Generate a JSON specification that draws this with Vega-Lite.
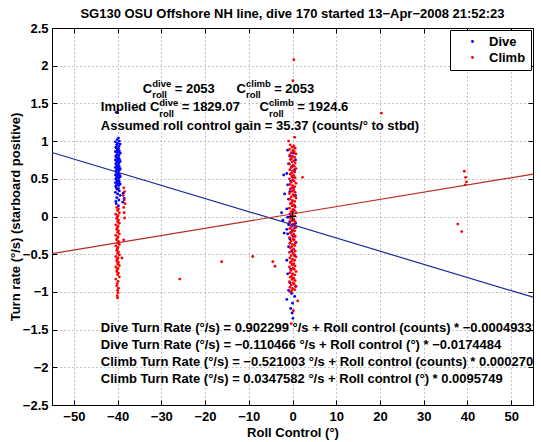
{
"$schema":"https://vega.github.io/schema/vega-lite/v6.json",
"width":481,"height":377,
"autosize":{"type":"none"},
"padding":{"left":52,"top":28,"right":8,"bottom":37},
"background":"white",
"title":{"text":"SG130 OSU Offshore NH line, dive 170 started 13−Apr−2008 21:52:23","font":"Liberation Sans","fontSize":13,"fontWeight":"bold","color":"black","offset":1,"anchor":"middle"},
"config":{"view":{"stroke":null},
"axis":{"labelFont":"Liberation Sans","labelFontSize":13,"labelFontWeight":"bold","labelColor":"black","titleFont":"Liberation Sans","titleFontSize":13,"titleFontWeight":"bold","titleColor":"black","domainColor":"black","tickColor":"black","domainWidth":1,"tickWidth":1,"labelFlush":false,"gridColor":"#888888","gridDash":[1,3],"gridWidth":1}},
"datasets":{
"points":[
{"series":"Dive","x":-40.3,"y":1.38},{"series":"Dive","x":-39.8,"y":1.04},{"series":"Dive","x":-40.1,"y":1.02},{"series":"Dive","x":-39.6,"y":1.0},{"series":"Dive","x":-40.5,"y":0.99},{"series":"Dive","x":-40.0,"y":0.97},{"series":"Dive","x":-39.4,"y":0.96},{"series":"Dive","x":-40.2,"y":0.95},{"series":"Dive","x":-39.7,"y":0.93},{"series":"Dive","x":-40.4,"y":0.92},
{"series":"Dive","x":-40.3,"y":0.91},{"series":"Dive","x":-39.8,"y":0.9},{"series":"Dive","x":-40.1,"y":0.88},{"series":"Dive","x":-39.6,"y":0.87},{"series":"Dive","x":-40.5,"y":0.86},{"series":"Dive","x":-40.0,"y":0.85},{"series":"Dive","x":-39.4,"y":0.84},{"series":"Dive","x":-40.2,"y":0.82},{"series":"Dive","x":-39.7,"y":0.81},{"series":"Dive","x":-40.4,"y":0.8},
{"series":"Dive","x":-40.3,"y":0.79},{"series":"Dive","x":-39.8,"y":0.78},{"series":"Dive","x":-40.1,"y":0.77},{"series":"Dive","x":-39.6,"y":0.76},{"series":"Dive","x":-40.5,"y":0.75},{"series":"Dive","x":-40.0,"y":0.74},{"series":"Dive","x":-39.4,"y":0.73},{"series":"Dive","x":-40.2,"y":0.72},{"series":"Dive","x":-39.7,"y":0.71},{"series":"Dive","x":-40.4,"y":0.7},
{"series":"Dive","x":-40.3,"y":0.69},{"series":"Dive","x":-39.8,"y":0.68},{"series":"Dive","x":-40.1,"y":0.67},{"series":"Dive","x":-39.6,"y":0.66},{"series":"Dive","x":-40.5,"y":0.65},{"series":"Dive","x":-40.0,"y":0.64},{"series":"Dive","x":-39.4,"y":0.63},{"series":"Dive","x":-40.2,"y":0.62},{"series":"Dive","x":-39.7,"y":0.61},{"series":"Dive","x":-40.4,"y":0.6},
{"series":"Dive","x":-40.3,"y":0.59},{"series":"Dive","x":-39.8,"y":0.58},{"series":"Dive","x":-40.1,"y":0.57},{"series":"Dive","x":-39.6,"y":0.56},{"series":"Dive","x":-40.5,"y":0.55},{"series":"Dive","x":-40.0,"y":0.54},{"series":"Dive","x":-39.4,"y":0.53},{"series":"Dive","x":-40.2,"y":0.52},{"series":"Dive","x":-39.7,"y":0.51},{"series":"Dive","x":-40.4,"y":0.5},
{"series":"Dive","x":-40.3,"y":0.49},{"series":"Dive","x":-39.8,"y":0.48},{"series":"Dive","x":-40.1,"y":0.47},{"series":"Dive","x":-39.6,"y":0.46},{"series":"Dive","x":-40.5,"y":0.45},{"series":"Dive","x":-40.0,"y":0.44},{"series":"Dive","x":-39.4,"y":0.43},{"series":"Dive","x":-40.2,"y":0.42},{"series":"Dive","x":-39.7,"y":0.41},{"series":"Dive","x":-40.4,"y":0.4},
{"series":"Dive","x":-40.3,"y":0.38},{"series":"Dive","x":-39.8,"y":0.37},{"series":"Dive","x":-40.1,"y":0.36},{"series":"Dive","x":-39.6,"y":0.34},{"series":"Dive","x":-40.5,"y":0.32},{"series":"Dive","x":-40.0,"y":0.3},{"series":"Dive","x":-39.4,"y":0.28},{"series":"Dive","x":-40.2,"y":0.25},{"series":"Dive","x":-39.7,"y":0.22},{"series":"Dive","x":-40.4,"y":0.2},
{"series":"Dive","x":-40.3,"y":0.17},{"series":"Dive","x":-39.8,"y":0.14},{"series":"Dive","x":-38.7,"y":0.31},{"series":"Dive","x":-38.5,"y":0.24},{"series":"Dive","x":-38.8,"y":0.19},
{"series":"Dive","x":-1.1,"y":0.88},{"series":"Dive","x":0.2,"y":0.84},{"series":"Dive","x":-0.6,"y":0.8},{"series":"Dive","x":0.7,"y":0.75},{"series":"Dive","x":-0.9,"y":0.7},{"series":"Dive","x":-0.2,"y":0.66},{"series":"Dive","x":0.5,"y":0.62},{"series":"Dive","x":-1.3,"y":0.57},{"series":"Dive","x":0.0,"y":0.52},{"series":"Dive","x":-0.4,"y":0.47},
{"series":"Dive","x":-1.1,"y":0.42},{"series":"Dive","x":0.2,"y":0.38},{"series":"Dive","x":-0.6,"y":0.33},{"series":"Dive","x":0.7,"y":0.28},{"series":"Dive","x":-0.9,"y":0.23},{"series":"Dive","x":-0.2,"y":0.18},{"series":"Dive","x":0.5,"y":0.14},{"series":"Dive","x":-1.3,"y":0.1},{"series":"Dive","x":0.0,"y":0.06},{"series":"Dive","x":-0.4,"y":0.02},
{"series":"Dive","x":-1.1,"y":-0.01},{"series":"Dive","x":0.2,"y":-0.04},{"series":"Dive","x":-0.6,"y":-0.07},{"series":"Dive","x":0.7,"y":-0.09},{"series":"Dive","x":-0.9,"y":-0.11},{"series":"Dive","x":-0.2,"y":-0.13},{"series":"Dive","x":0.5,"y":-0.15},{"series":"Dive","x":-1.3,"y":-0.17},{"series":"Dive","x":0.0,"y":-0.19},{"series":"Dive","x":-0.4,"y":-0.21},
{"series":"Dive","x":-1.1,"y":-0.23},{"series":"Dive","x":0.2,"y":-0.26},{"series":"Dive","x":-0.6,"y":-0.3},{"series":"Dive","x":0.7,"y":-0.35},{"series":"Dive","x":-0.9,"y":-0.4},{"series":"Dive","x":-0.2,"y":-0.46},{"series":"Dive","x":0.5,"y":-0.52},{"series":"Dive","x":-1.3,"y":-0.58},{"series":"Dive","x":0.0,"y":-0.64},{"series":"Dive","x":-0.4,"y":-0.7},
{"series":"Dive","x":-1.1,"y":-0.76},{"series":"Dive","x":0.2,"y":-0.82},{"series":"Dive","x":-0.6,"y":-0.88},{"series":"Dive","x":0.7,"y":-0.93},{"series":"Dive","x":-0.9,"y":-0.98},{"series":"Dive","x":-0.2,"y":-1.02},{"series":"Dive","x":0.5,"y":-1.06},{"series":"Dive","x":-1.3,"y":-1.1},{"series":"Dive","x":0.0,"y":-1.15},{"series":"Dive","x":-0.4,"y":-1.22},
{"series":"Dive","x":-0.1,"y":-1.28},{"series":"Dive","x":0.1,"y":-1.35},{"series":"Dive","x":-2.5,"y":0.05},{"series":"Dive","x":-2.2,"y":-0.05},{"series":"Dive","x":-1.8,"y":0.3},{"series":"Dive","x":-2.0,"y":0.55},{"series":"Dive","x":-1.9,"y":-0.22},
{"series":"Climb","x":-40.2,"y":0.12},{"series":"Climb","x":-39.8,"y":0.1},{"series":"Climb","x":-40.0,"y":0.08},{"series":"Climb","x":-39.6,"y":0.05},{"series":"Climb","x":-40.4,"y":0.03},{"series":"Climb","x":-39.9,"y":0.01},{"series":"Climb","x":-40.1,"y":-0.01},
{"series":"Climb","x":-40.2,"y":-0.03},{"series":"Climb","x":-39.8,"y":-0.05},{"series":"Climb","x":-40.0,"y":-0.07},{"series":"Climb","x":-39.6,"y":-0.09},{"series":"Climb","x":-40.4,"y":-0.11},{"series":"Climb","x":-39.9,"y":-0.13},{"series":"Climb","x":-40.1,"y":-0.15},
{"series":"Climb","x":-40.2,"y":-0.17},{"series":"Climb","x":-39.8,"y":-0.19},{"series":"Climb","x":-40.0,"y":-0.21},{"series":"Climb","x":-39.6,"y":-0.23},{"series":"Climb","x":-40.4,"y":-0.25},{"series":"Climb","x":-39.9,"y":-0.27},{"series":"Climb","x":-40.1,"y":-0.29},
{"series":"Climb","x":-40.2,"y":-0.31},{"series":"Climb","x":-39.8,"y":-0.33},{"series":"Climb","x":-40.0,"y":-0.35},{"series":"Climb","x":-39.6,"y":-0.37},{"series":"Climb","x":-40.4,"y":-0.39},{"series":"Climb","x":-39.9,"y":-0.41},{"series":"Climb","x":-40.1,"y":-0.43},
{"series":"Climb","x":-40.2,"y":-0.45},{"series":"Climb","x":-39.8,"y":-0.47},{"series":"Climb","x":-40.0,"y":-0.49},{"series":"Climb","x":-39.6,"y":-0.51},{"series":"Climb","x":-40.4,"y":-0.53},{"series":"Climb","x":-39.9,"y":-0.55},{"series":"Climb","x":-40.1,"y":-0.57},
{"series":"Climb","x":-40.2,"y":-0.59},{"series":"Climb","x":-39.8,"y":-0.61},{"series":"Climb","x":-40.0,"y":-0.63},{"series":"Climb","x":-39.6,"y":-0.65},{"series":"Climb","x":-40.4,"y":-0.67},{"series":"Climb","x":-39.9,"y":-0.69},{"series":"Climb","x":-40.1,"y":-0.71},
{"series":"Climb","x":-40.2,"y":-0.73},{"series":"Climb","x":-39.8,"y":-0.75},{"series":"Climb","x":-40.0,"y":-0.77},{"series":"Climb","x":-39.6,"y":-0.8},{"series":"Climb","x":-40.4,"y":-0.83},{"series":"Climb","x":-39.9,"y":-0.86},{"series":"Climb","x":-40.1,"y":-0.89},
{"series":"Climb","x":-40.2,"y":-0.92},{"series":"Climb","x":-39.8,"y":-0.95},{"series":"Climb","x":-40.0,"y":-0.98},{"series":"Climb","x":-39.9,"y":-1.01},{"series":"Climb","x":-40.1,"y":-1.05},{"series":"Climb","x":-40.0,"y":-1.08},
{"series":"Climb","x":-38.6,"y":0.38},{"series":"Climb","x":-38.4,"y":0.33},{"series":"Climb","x":-38.7,"y":0.28},{"series":"Climb","x":-38.5,"y":0.22},{"series":"Climb","x":-38.3,"y":0.17},{"series":"Climb","x":-38.6,"y":0.12},{"series":"Climb","x":-38.5,"y":0.05},{"series":"Climb","x":-38.4,"y":-0.02},{"series":"Climb","x":-38.6,"y":-0.31},{"series":"Climb","x":-39.0,"y":-0.55},
{"series":"Climb","x":-0.5,"y":0.95},{"series":"Climb","x":0.3,"y":0.935},{"series":"Climb","x":-0.1,"y":0.92},{"series":"Climb","x":0.6,"y":0.905},{"series":"Climb","x":-0.7,"y":0.89},{"series":"Climb","x":0.1,"y":0.875},{"series":"Climb","x":0.4,"y":0.86},{"series":"Climb","x":-0.3,"y":0.845},{"series":"Climb","x":0.8,"y":0.83},{"series":"Climb","x":-0.6,"y":0.815},{"series":"Climb","x":0.0,"y":0.8},{"series":"Climb","x":0.5,"y":0.785},{"series":"Climb","x":-0.2,"y":0.77},
{"series":"Climb","x":-0.5,"y":0.755},{"series":"Climb","x":0.3,"y":0.74},{"series":"Climb","x":-0.1,"y":0.725},{"series":"Climb","x":0.6,"y":0.71},{"series":"Climb","x":-0.7,"y":0.695},{"series":"Climb","x":0.1,"y":0.68},{"series":"Climb","x":0.4,"y":0.665},{"series":"Climb","x":-0.3,"y":0.65},{"series":"Climb","x":0.8,"y":0.635},{"series":"Climb","x":-0.6,"y":0.62},{"series":"Climb","x":0.0,"y":0.605},{"series":"Climb","x":0.5,"y":0.59},{"series":"Climb","x":-0.2,"y":0.575},
{"series":"Climb","x":-0.5,"y":0.56},{"series":"Climb","x":0.3,"y":0.545},{"series":"Climb","x":-0.1,"y":0.53},{"series":"Climb","x":0.6,"y":0.515},{"series":"Climb","x":-0.7,"y":0.5},{"series":"Climb","x":0.1,"y":0.485},{"series":"Climb","x":0.4,"y":0.47},{"series":"Climb","x":-0.3,"y":0.455},{"series":"Climb","x":0.8,"y":0.44},{"series":"Climb","x":-0.6,"y":0.425},{"series":"Climb","x":0.0,"y":0.41},{"series":"Climb","x":0.5,"y":0.395},{"series":"Climb","x":-0.2,"y":0.38},
{"series":"Climb","x":-0.5,"y":0.365},{"series":"Climb","x":0.3,"y":0.35},{"series":"Climb","x":-0.1,"y":0.335},{"series":"Climb","x":0.6,"y":0.32},{"series":"Climb","x":-0.7,"y":0.305},{"series":"Climb","x":0.1,"y":0.29},{"series":"Climb","x":0.4,"y":0.275},{"series":"Climb","x":-0.3,"y":0.26},{"series":"Climb","x":0.8,"y":0.245},{"series":"Climb","x":-0.6,"y":0.23},{"series":"Climb","x":0.0,"y":0.215},{"series":"Climb","x":0.5,"y":0.2},{"series":"Climb","x":-0.2,"y":0.185},
{"series":"Climb","x":-0.5,"y":0.17},{"series":"Climb","x":0.3,"y":0.155},{"series":"Climb","x":-0.1,"y":0.14},{"series":"Climb","x":0.6,"y":0.125},{"series":"Climb","x":-0.7,"y":0.11},{"series":"Climb","x":0.1,"y":0.095},{"series":"Climb","x":0.4,"y":0.08},{"series":"Climb","x":-0.3,"y":0.065},{"series":"Climb","x":0.8,"y":0.05},{"series":"Climb","x":-0.6,"y":0.035},{"series":"Climb","x":0.0,"y":0.02},{"series":"Climb","x":0.5,"y":0.005},{"series":"Climb","x":-0.2,"y":-0.01},
{"series":"Climb","x":-0.5,"y":-0.025},{"series":"Climb","x":0.3,"y":-0.04},{"series":"Climb","x":-0.1,"y":-0.055},{"series":"Climb","x":0.6,"y":-0.07},{"series":"Climb","x":-0.7,"y":-0.085},{"series":"Climb","x":0.1,"y":-0.1},{"series":"Climb","x":0.4,"y":-0.115},{"series":"Climb","x":-0.3,"y":-0.13},{"series":"Climb","x":0.8,"y":-0.145},{"series":"Climb","x":-0.6,"y":-0.16},{"series":"Climb","x":0.0,"y":-0.175},{"series":"Climb","x":0.5,"y":-0.19},{"series":"Climb","x":-0.2,"y":-0.205},
{"series":"Climb","x":-0.5,"y":-0.22},{"series":"Climb","x":0.3,"y":-0.235},{"series":"Climb","x":-0.1,"y":-0.25},{"series":"Climb","x":0.6,"y":-0.265},{"series":"Climb","x":-0.7,"y":-0.28},{"series":"Climb","x":0.1,"y":-0.295},{"series":"Climb","x":0.4,"y":-0.31},{"series":"Climb","x":-0.3,"y":-0.325},{"series":"Climb","x":0.8,"y":-0.34},{"series":"Climb","x":-0.6,"y":-0.355},{"series":"Climb","x":0.0,"y":-0.37},{"series":"Climb","x":0.5,"y":-0.385},{"series":"Climb","x":-0.2,"y":-0.4},
{"series":"Climb","x":-0.5,"y":-0.415},{"series":"Climb","x":0.3,"y":-0.43},{"series":"Climb","x":-0.1,"y":-0.445},{"series":"Climb","x":0.6,"y":-0.46},{"series":"Climb","x":-0.7,"y":-0.475},{"series":"Climb","x":0.1,"y":-0.49},{"series":"Climb","x":0.4,"y":-0.505},{"series":"Climb","x":-0.3,"y":-0.52},{"series":"Climb","x":0.8,"y":-0.535},{"series":"Climb","x":-0.6,"y":-0.55},{"series":"Climb","x":0.0,"y":-0.565},{"series":"Climb","x":0.5,"y":-0.58},{"series":"Climb","x":-0.2,"y":-0.595},
{"series":"Climb","x":-0.5,"y":-0.61},{"series":"Climb","x":0.3,"y":-0.625},{"series":"Climb","x":-0.1,"y":-0.64},{"series":"Climb","x":0.6,"y":-0.655},{"series":"Climb","x":-0.7,"y":-0.67},{"series":"Climb","x":0.1,"y":-0.685},{"series":"Climb","x":0.4,"y":-0.7},{"series":"Climb","x":-0.3,"y":-0.715},{"series":"Climb","x":0.8,"y":-0.73},{"series":"Climb","x":-0.6,"y":-0.745},{"series":"Climb","x":0.0,"y":-0.76},{"series":"Climb","x":0.5,"y":-0.775},{"series":"Climb","x":-0.2,"y":-0.79},
{"series":"Climb","x":-0.5,"y":-0.805},{"series":"Climb","x":0.3,"y":-0.82},{"series":"Climb","x":-0.1,"y":-0.835},{"series":"Climb","x":0.6,"y":-0.85},{"series":"Climb","x":-0.7,"y":-0.865},{"series":"Climb","x":0.1,"y":-0.88},{"series":"Climb","x":0.4,"y":-0.895},{"series":"Climb","x":-0.3,"y":-0.91},{"series":"Climb","x":0.8,"y":-0.925},{"series":"Climb","x":-0.6,"y":-0.94},{"series":"Climb","x":0.0,"y":-0.955},{"series":"Climb","x":0.5,"y":-0.97},{"series":"Climb","x":-0.2,"y":-0.985},
{"series":"Climb","x":-0.5,"y":-1.0},
{"series":"Climb","x":0.3,"y":2.08},{"series":"Climb","x":0.1,"y":1.8},{"series":"Climb","x":0.5,"y":1.05},{"series":"Climb","x":2.3,"y":0.52},{"series":"Climb","x":-0.9,"y":1.0},{"series":"Climb","x":1.2,"y":-1.12},{"series":"Climb","x":0.2,"y":-1.25},{"series":"Climb","x":-0.3,"y":-1.42},
{"series":"Climb","x":-4.5,"y":-0.6},{"series":"Climb","x":-4.0,"y":-0.66},{"series":"Climb","x":-9.1,"y":-0.53},{"series":"Climb","x":-16.2,"y":-0.6},{"series":"Climb","x":-25.8,"y":-0.83},{"series":"Climb","x":20.3,"y":1.37},
{"series":"Climb","x":39.3,"y":0.6},{"series":"Climb","x":39.6,"y":0.52},{"series":"Climb","x":39.8,"y":0.46},{"series":"Climb","x":39.5,"y":0.42},{"series":"Climb","x":37.8,"y":-0.1},{"series":"Climb","x":38.7,"y":-0.2}
],
"fits":[
{"series":"Dive","x":-55,"y":0.849196,"x2":55,"y2":-1.070128},
{"series":"Climb","x":-55,"y":-0.491861,"x2":55,"y2":0.561378}
]},
"layer":[
{"data":{"name":"points"},
"mark":{"type":"point","filled":true,"shape":"circle","size":8,"opacity":1},
"encoding":{
"x":{"field":"x","type":"quantitative","scale":{"domain":[-55,55],"nice":false,"zero":false},
 "axis":{"orient":"bottom","values":[-50,-40,-30,-20,-10,0,10,20,30,40,50],"title":"Roll Control (°)","grid":true,"tickSize":-5,"labelPadding":10,"titlePadding":3}},
"y":{"field":"y","type":"quantitative","scale":{"domain":[-2.5,2.5],"nice":false,"zero":false},
 "axis":{"orient":"left","values":[-2.5,-2,-1.5,-1,-0.5,0,0.5,1,1.5,2,2.5],"format":"~g","title":"Turn rate (°/s) (starboard positive)","grid":true,"tickSize":-5,"labelPadding":9,"titlePadding":0}},
"color":{"field":"series","type":"nominal","sort":["Dive","Climb"],"scale":{"domain":["Dive","Climb"],"range":["#0000ff","#ff0000"]},
 "legend":{"title":null,"orient":"top-right","offset":2,"fillColor":"white","strokeColor":"black","padding":5,"symbolOffset":11,"labelOffset":10,"rowPadding":2,"symbolSize":8,"symbolType":"circle","labelFont":"Liberation Sans","labelFontSize":13,"labelFontWeight":"bold","labelColor":"black"}}
}},
{"data":{"name":"fits"},
"mark":{"type":"rule","strokeWidth":1.2},
"encoding":{"x":{"field":"x","type":"quantitative","axis":null},"y":{"field":"y","type":"quantitative","axis":null},"x2":{"field":"x2"},"y2":{"field":"y2"},
"color":{"field":"series","type":"nominal","scale":{"domain":["Dive","Climb"],"range":["#1c2a9c","#b82a2a"]},"legend":null}}},
{"data":{"values":[{}]},
"mark":{"type":"point","shape":"M-1,0L1,0M0,-1L0,1","filled":false,"stroke":"black","strokeWidth":1,"size":60,"opacity":1},
"encoding":{"x":{"datum":0,"type":"quantitative","axis":null},"y":{"datum":0,"type":"quantitative","axis":null}}},
{"data":{"values":[{}]},
"mark":{"type":"point","opacity":0},
"encoding":{
"x":{"datum":0,"type":"quantitative","axis":{"orient":"top","values":[-50,-40,-30,-20,-10,0,10,20,30,40,50],"labels":false,"title":null,"grid":false,"tickSize":-5}},
"y":{"datum":0,"type":"quantitative","axis":{"orient":"right","values":[-2.5,-2,-1.5,-1,-0.5,0,0.5,1,1.5,2,2.5],"labels":false,"title":null,"grid":false,"tickSize":-5}}}},
{"data":{"values":[{}]},"mark":{"type":"text","align":"left","baseline":"middle","font":"Liberation Sans","fontSize":13,"fontWeight":"bold","color":"black"},
"encoding":{"x":{"datum":-34.25,"type":"quantitative","axis":null},"y":{"datum":1.691,"type":"quantitative","axis":null},"text":{"value":"C"}}},
{"data":{"values":[{}]},"mark":{"type":"text","align":"left","baseline":"middle","font":"Liberation Sans","fontSize":9.5,"fontWeight":"bold","color":"black"},
"encoding":{"x":{"datum":-32.08,"type":"quantitative","axis":null},"y":{"datum":1.751,"type":"quantitative","axis":null},"text":{"value":"dive"}}},
{"data":{"values":[{}]},"mark":{"type":"text","align":"left","baseline":"middle","font":"Liberation Sans","fontSize":9.5,"fontWeight":"bold","color":"black"},
"encoding":{"x":{"datum":-32.08,"type":"quantitative","axis":null},"y":{"datum":1.605,"type":"quantitative","axis":null},"text":{"value":"roll"}}},
{"data":{"values":[{}]},"mark":{"type":"text","align":"left","baseline":"middle","font":"Liberation Sans","fontSize":13,"fontWeight":"bold","color":"black"},
"encoding":{"x":{"datum":-26.94,"type":"quantitative","axis":null},"y":{"datum":1.691,"type":"quantitative","axis":null},"text":{"value":"= 2053"}}},
{"data":{"values":[{}]},"mark":{"type":"text","align":"left","baseline":"middle","font":"Liberation Sans","fontSize":13,"fontWeight":"bold","color":"black"},
"encoding":{"x":{"datum":-12.79,"type":"quantitative","axis":null},"y":{"datum":1.691,"type":"quantitative","axis":null},"text":{"value":"C"}}},
{"data":{"values":[{}]},"mark":{"type":"text","align":"left","baseline":"middle","font":"Liberation Sans","fontSize":9.5,"fontWeight":"bold","color":"black"},
"encoding":{"x":{"datum":-10.64,"type":"quantitative","axis":null},"y":{"datum":1.751,"type":"quantitative","axis":null},"text":{"value":"climb"}}},
{"data":{"values":[{}]},"mark":{"type":"text","align":"left","baseline":"middle","font":"Liberation Sans","fontSize":9.5,"fontWeight":"bold","color":"black"},
"encoding":{"x":{"datum":-10.64,"type":"quantitative","axis":null},"y":{"datum":1.605,"type":"quantitative","axis":null},"text":{"value":"roll"}}},
{"data":{"values":[{}]},"mark":{"type":"text","align":"left","baseline":"middle","font":"Liberation Sans","fontSize":13,"fontWeight":"bold","color":"black"},
"encoding":{"x":{"datum":-4.2,"type":"quantitative","axis":null},"y":{"datum":1.691,"type":"quantitative","axis":null},"text":{"value":"= 2053"}}},
{"data":{"values":[{}]},"mark":{"type":"text","align":"left","baseline":"middle","font":"Liberation Sans","fontSize":13,"fontWeight":"bold","color":"black"},
"encoding":{"x":{"datum":-43.84,"type":"quantitative","axis":null},"y":{"datum":1.452,"type":"quantitative","axis":null},"text":{"value":"Implied C"}}},
{"data":{"values":[{}]},"mark":{"type":"text","align":"left","baseline":"middle","font":"Liberation Sans","fontSize":9.5,"fontWeight":"bold","color":"black"},
"encoding":{"x":{"datum":-30.48,"type":"quantitative","axis":null},"y":{"datum":1.505,"type":"quantitative","axis":null},"text":{"value":"dive"}}},
{"data":{"values":[{}]},"mark":{"type":"text","align":"left","baseline":"middle","font":"Liberation Sans","fontSize":9.5,"fontWeight":"bold","color":"black"},
"encoding":{"x":{"datum":-30.48,"type":"quantitative","axis":null},"y":{"datum":1.359,"type":"quantitative","axis":null},"text":{"value":"roll"}}},
{"data":{"values":[{}]},"mark":{"type":"text","align":"left","baseline":"middle","font":"Liberation Sans","fontSize":13,"fontWeight":"bold","color":"black"},
"encoding":{"x":{"datum":-25.34,"type":"quantitative","axis":null},"y":{"datum":1.452,"type":"quantitative","axis":null},"text":{"value":"= 1829.07"}}},
{"data":{"values":[{}]},"mark":{"type":"text","align":"left","baseline":"middle","font":"Liberation Sans","fontSize":13,"fontWeight":"bold","color":"black"},
"encoding":{"x":{"datum":-7.53,"type":"quantitative","axis":null},"y":{"datum":1.452,"type":"quantitative","axis":null},"text":{"value":"C"}}},
{"data":{"values":[{}]},"mark":{"type":"text","align":"left","baseline":"middle","font":"Liberation Sans","fontSize":9.5,"fontWeight":"bold","color":"black"},
"encoding":{"x":{"datum":-5.39,"type":"quantitative","axis":null},"y":{"datum":1.505,"type":"quantitative","axis":null},"text":{"value":"climb"}}},
{"data":{"values":[{}]},"mark":{"type":"text","align":"left","baseline":"middle","font":"Liberation Sans","fontSize":9.5,"fontWeight":"bold","color":"black"},
"encoding":{"x":{"datum":-5.39,"type":"quantitative","axis":null},"y":{"datum":1.359,"type":"quantitative","axis":null},"text":{"value":"roll"}}},
{"data":{"values":[{}]},"mark":{"type":"text","align":"left","baseline":"middle","font":"Liberation Sans","fontSize":13,"fontWeight":"bold","color":"black"},
"encoding":{"x":{"datum":1.1,"type":"quantitative","axis":null},"y":{"datum":1.452,"type":"quantitative","axis":null},"text":{"value":"= 1924.6"}}},
{"data":{"values":[{}]},"mark":{"type":"text","align":"left","baseline":"middle","font":"Liberation Sans","fontSize":13,"fontWeight":"bold","color":"black"},
"encoding":{"x":{"datum":-43.84,"type":"quantitative","axis":null},"y":{"datum":1.2,"type":"quantitative","axis":null},"text":{"value":"Assumed roll control gain = 35.37 (counts/° to stbd)"}}},
{"data":{"values":[{}]},"mark":{"type":"text","align":"left","baseline":"middle","font":"Liberation Sans","fontSize":13,"fontWeight":"bold","color":"black","clip":true},
"encoding":{"x":{"datum":-43.84,"type":"quantitative","axis":null},"y":{"datum":-1.479,"type":"quantitative","axis":null},"text":{"value":"Dive Turn Rate (°/s) = 0.902299 °/s + Roll control (counts) * −0.00049331"}}},
{"data":{"values":[{}]},"mark":{"type":"text","align":"left","baseline":"middle","font":"Liberation Sans","fontSize":13,"fontWeight":"bold","color":"black","clip":true},
"encoding":{"x":{"datum":-43.84,"type":"quantitative","axis":null},"y":{"datum":-1.704,"type":"quantitative","axis":null},"text":{"value":"Dive Turn Rate (°/s) = −0.110466 °/s + Roll control (°) * −0.0174484"}}},
{"data":{"values":[{}]},"mark":{"type":"text","align":"left","baseline":"middle","font":"Liberation Sans","fontSize":13,"fontWeight":"bold","color":"black","clip":true},
"encoding":{"x":{"datum":-43.84,"type":"quantitative","axis":null},"y":{"datum":-1.93,"type":"quantitative","axis":null},"text":{"value":"Climb Turn Rate (°/s) = −0.521003 °/s + Roll control (counts) * 0.00027070"}}},
{"data":{"values":[{}]},"mark":{"type":"text","align":"left","baseline":"middle","font":"Liberation Sans","fontSize":13,"fontWeight":"bold","color":"black","clip":true},
"encoding":{"x":{"datum":-43.84,"type":"quantitative","axis":null},"y":{"datum":-2.155,"type":"quantitative","axis":null},"text":{"value":"Climb Turn Rate (°/s) = 0.0347582 °/s + Roll control (°) * 0.0095749"}}}
],
"resolve":{"scale":{"color":"independent"},"axis":{"x":"independent","y":"independent"}}
}
